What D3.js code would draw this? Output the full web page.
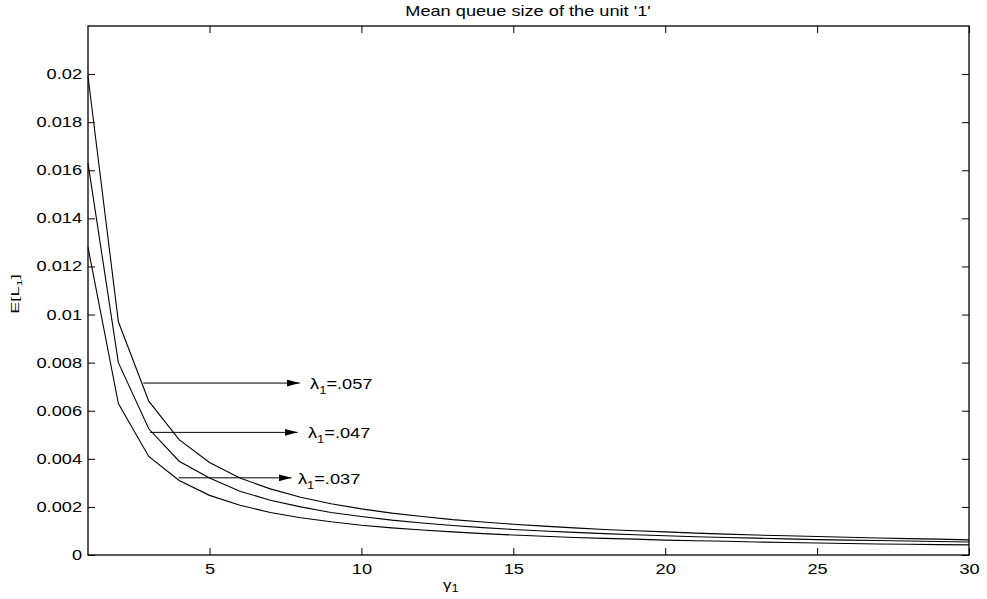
<!doctype html>
<html>
<head>
<meta charset="utf-8">
<script src="https://d3js.org/d3.v7.min.js"></script>
<style>
  body { margin: 0; background: #fff; }
  text { font-family: "Liberation Sans", Arial, Helvetica, sans-serif; fill: #000; }
  .curve { fill: none; stroke: #000; stroke-width: 1.1; }
</style>
</head>
<body>
<svg width="987" height="599"></svg>
<script>
// gamma_1 values (x axis)
var gammas = d3.range(1, 31);

// E[L_1] for each lambda_1
var meanQ057 = [0.0199, 0.0097, 0.0064, 0.0048, 0.00385, 0.0032, 0.00275, 0.0024, 0.00213, 0.00192,
                0.00174, 0.0016, 0.00147, 0.00137, 0.00128, 0.0012, 0.00113, 0.00106, 0.00101, 0.00096,
                0.00091, 0.00087, 0.00083, 0.0008, 0.00077, 0.00074, 0.00071, 0.00068, 0.00066, 0.00063];
var meanQ047 = [0.0163, 0.0080, 0.00525, 0.0039, 0.0032, 0.00265, 0.00228, 0.002, 0.00177, 0.0016,
                0.00145, 0.00133, 0.00123, 0.00114, 0.00106, 0.001, 0.00094, 0.00089, 0.00084, 0.0008,
                0.00076, 0.00073, 0.0007, 0.00067, 0.00064, 0.00062, 0.0006, 0.00058, 0.00056, 0.00054];
var meanQ037 = [0.0128, 0.0063, 0.0041, 0.0031, 0.00248, 0.00207, 0.00177, 0.00155, 0.00138, 0.00124,
                0.00113, 0.00104, 0.00096, 0.00089, 0.00083, 0.00078, 0.00073, 0.00069, 0.00066, 0.00062,
                0.00059, 0.00057, 0.00054, 0.00052, 0.0005, 0.00048, 0.00046, 0.00045, 0.00043, 0.00042];

// arrow annotations
var arrowLabels = [".057", ".047", ".037"];
var arrowY      = [0.00715, 0.0051, 0.00321];
var arrowFromX  = [2.82, 3.04, 3.98];
var arrowToX    = [7.97, 7.9, 7.7];
var labelX      = [8.31, 8.24, 7.91];

// ticks
var xTicks = [5, 10, 15, 20, 25, 30];
var yTicks = [0, 0.002, 0.004, 0.006, 0.008, 0.01, 0.012, 0.014, 0.016, 0.018, 0.02];
var yTickLabels = ["0", "0.002", "0.004", "0.006", "0.008", "0.01", "0.012", "0.014", "0.016", "0.018", "0.02"];

var svg = d3.select("svg"),
    plotL = 88, plotR = 969, plotT = 26, plotB = 555,
    sx = 1.3; // text in the picture is stretched sideways

var x = d3.scaleLinear().domain([1, 30]).range([plotL, plotR]);
var y = d3.scaleLinear().domain([0, 0.022]).range([plotB, plotT]);

// axes, ticks inward on all four sides
var gx = svg.append("g").attr("transform", "translate(0," + plotB + ")")
  .call(d3.axisBottom(x).tickValues(xTicks).tickSizeInner(-7).tickSizeOuter(0).tickPadding(9));
var gy = svg.append("g").attr("transform", "translate(" + plotL + ",0)")
  .call(d3.axisLeft(y).tickValues(yTicks).tickSizeInner(-7).tickSizeOuter(0).tickPadding(6 / sx)
        .tickFormat(function(d, i) { return yTickLabels[i]; }));
svg.append("g").attr("transform", "translate(0," + plotT + ")")
  .call(d3.axisTop(x).tickValues(xTicks).tickSizeInner(-7).tickSizeOuter(0).tickFormat(""));
svg.append("g").attr("transform", "translate(" + plotR + ",0)")
  .call(d3.axisRight(y).tickValues(yTicks).tickSizeInner(-7).tickSizeOuter(0).tickFormat(""));

svg.selectAll(".tick line").attr("stroke", "#000");
svg.selectAll(".domain").remove();
[gx, gy].forEach(function(g) {
  g.selectAll("text").attr("font-size", 14).attr("fill", "#000")
   .attr("font-family", "Liberation Sans, Arial, sans-serif")
   .attr("transform", "scale(" + sx + ",1)");
});

svg.append("rect")
  .attr("x", plotL).attr("y", plotT)
  .attr("width", plotR - plotL).attr("height", plotB - plotT)
  .attr("fill", "none").attr("stroke", "#000").attr("stroke-width", 1.3);

// curves
var line = d3.line().x(function(d) { return x(d[0]); }).y(function(d) { return y(d[1]); });
[meanQ057, meanQ047, meanQ037].forEach(function(s) {
  svg.append("path").attr("class", "curve")
     .attr("d", line(gammas.map(function(g, i) { return [g, s[i]]; })));
});

// arrows + labels
svg.append("defs").append("marker")
  .attr("id", "head").attr("viewBox", "0 0 13 7")
  .attr("refX", 13).attr("refY", 3.5)
  .attr("markerWidth", 13).attr("markerHeight", 7)
  .attr("markerUnits", "userSpaceOnUse").attr("orient", "auto")
  .append("path").attr("d", "M0,0L13,3.5L0,7Z").attr("fill", "#000");

arrowLabels.forEach(function(lab, i) {
  svg.append("line")
    .attr("x1", x(arrowFromX[i])).attr("x2", x(arrowToX[i]))
    .attr("y1", y(arrowY[i])).attr("y2", y(arrowY[i]))
    .attr("stroke", "#000").attr("stroke-width", 1)
    .attr("marker-end", "url(#head)");
  var t = svg.append("text")
    .attr("transform", "translate(" + x(labelX[i]) + "," + (y(arrowY[i]) + 6) + ") scale(" + sx + ",1)")
    .attr("font-size", 14);
  t.append("tspan").text("λ");
  t.append("tspan").attr("font-size", 10).attr("dy", 5).text("1");
  t.append("tspan").attr("dy", -5).text("=" + lab);
});

// title and axis labels
svg.append("text")
  .attr("transform", "translate(528,16) scale(" + sx + ",1)")
  .attr("text-anchor", "middle").attr("font-size", 14)
  .text("Mean queue size of the unit '1'");

var xl = svg.append("text")
  .attr("transform", "translate(443,589) scale(" + sx + ",1)")
  .attr("text-anchor", "start").attr("font-size", 13);
xl.append("tspan").text("γ");
xl.append("tspan").attr("font-size", 10).attr("dy", 3).text("1");

var yl = svg.append("text")
  .attr("transform", "translate(19,294) rotate(-90) scale(1.3,0.8)")
  .attr("text-anchor", "middle").attr("font-size", 14);
yl.append("tspan").text("E[L");
yl.append("tspan").attr("font-size", 10).attr("dy", 4).text("1");
yl.append("tspan").attr("dy", -4).text("]");
</script>
</body>
</html>
